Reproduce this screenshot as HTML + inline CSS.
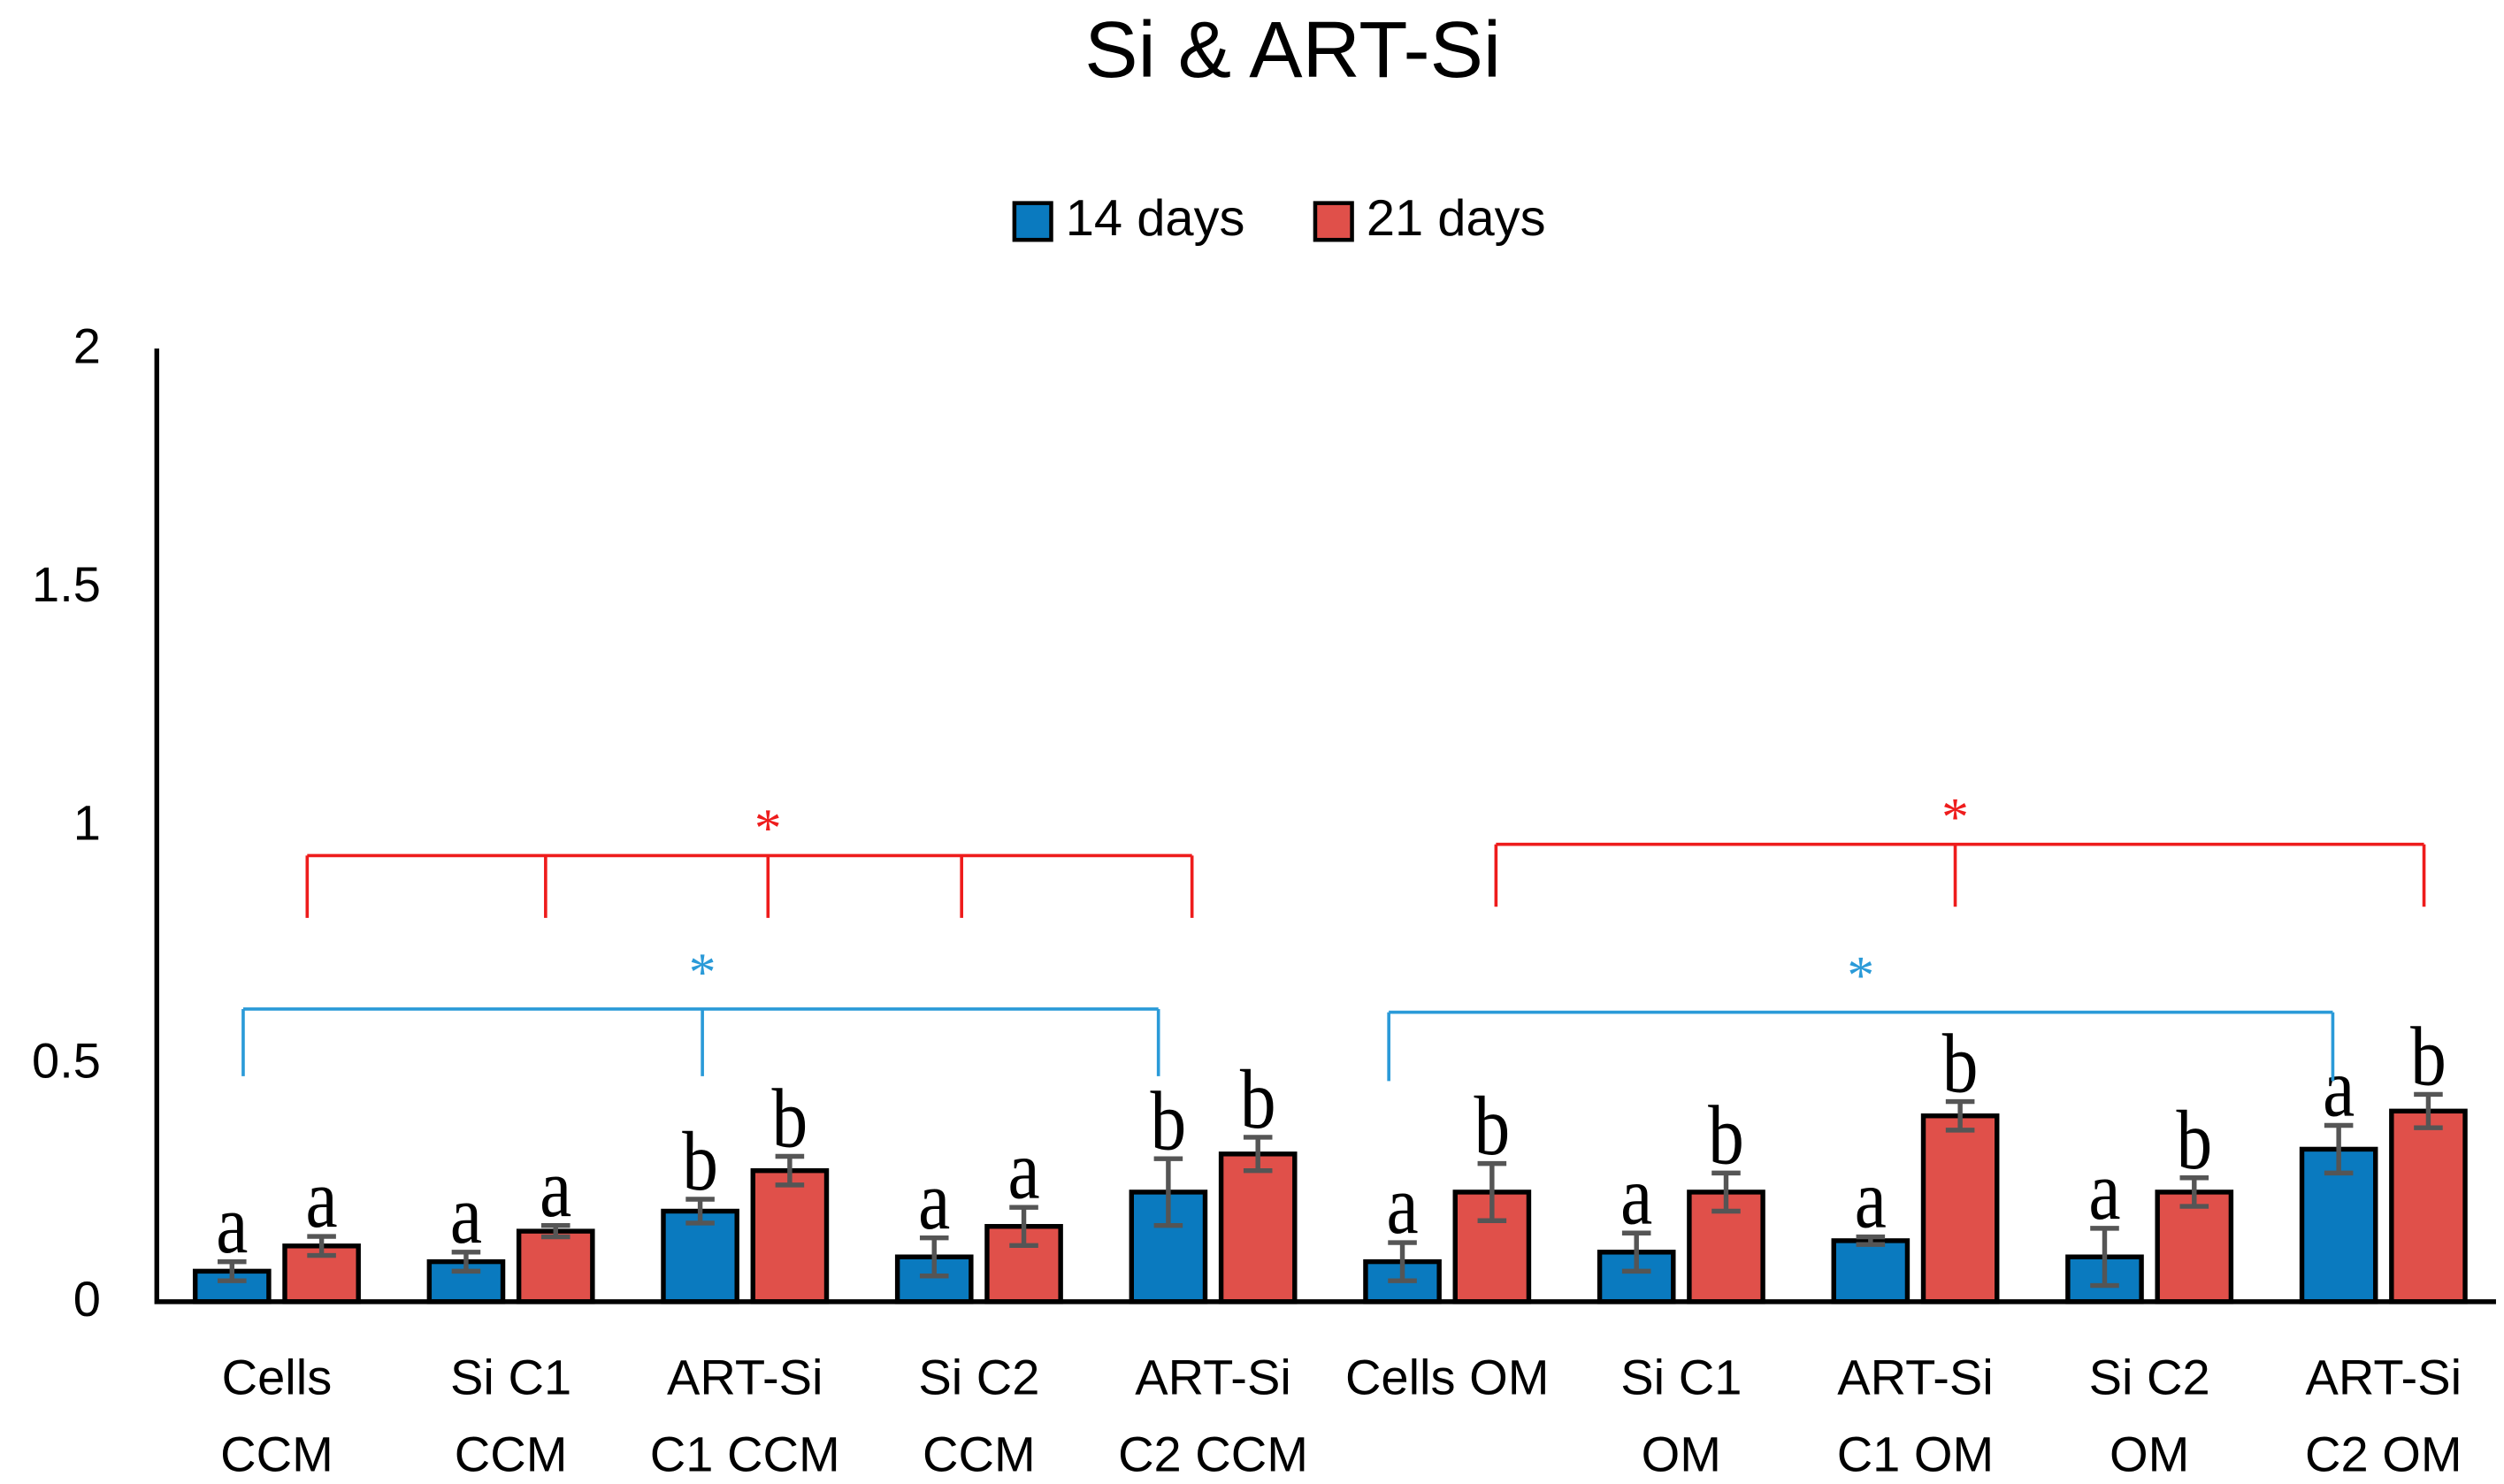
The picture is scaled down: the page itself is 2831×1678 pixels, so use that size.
<!DOCTYPE html>
<html><head><meta charset="utf-8"><style>
html,body{margin:0;padding:0;background:#fff;}
svg{display:block;}
</style></head><body>
<svg id="chart" xmlns="http://www.w3.org/2000/svg" width="2831" height="1678" viewBox="0 0 1565 928" preserveAspectRatio="none">
<text x="808" y="48" text-anchor="middle" font-family="Liberation Sans, sans-serif" font-size="50">Si &amp; ART-Si</text>
<g>
 <rect x="634" y="127" width="23" height="23" fill="#0a7abf" stroke="#000" stroke-width="2.5"/>
 <text x="666" y="147" font-family="Liberation Sans, sans-serif" font-size="32">14 days</text>
 <rect x="822" y="127" width="23" height="23" fill="#e0504a" stroke="#000" stroke-width="2.5"/>
 <text x="854" y="147" font-family="Liberation Sans, sans-serif" font-size="32">21 days</text>
</g>
<g id="plot"></g>
</svg>
<script>
const categories1 = ["Cells","Si C1","ART-Si","Si C2","ART-Si","Cells OM","Si C1","ART-Si","Si C2","ART-Si"];
const categories2 = ["CCM","CCM","C1 CCM","CCM","C2 CCM","","OM","C1 OM","OM","C2 OM"];
const days14 = [0.064,0.084,0.19,0.094,0.23,0.084,0.104,0.128,0.094,0.32];
const days21 = [0.117,0.148,0.275,0.158,0.31,0.23,0.23,0.39,0.23,0.40];
const err14 = [0.02,0.02,0.025,0.04,0.07,0.04,0.04,0.008,0.06,0.05];
const err21 = [0.02,0.012,0.03,0.04,0.035,0.06,0.04,0.03,0.03,0.035];
const letters14 = ["a","a","b","a","b","a","a","a","a","a"];
const letters21 = ["a","a","b","a","b","b","b","b","b","b"];
const yTicks = [0,0.5,1,1.5,2];
const yTickLabels = ["0","0.5","1","1.5","2"];

const NS="http://www.w3.org/2000/svg";
const plot=document.getElementById('plot');
const x0=98, xEnd=1560, yBase=814, yTop=218, yMax=2;
const y=v=>yBase-(v/yMax)*(yBase-yTop);
const step=146.3, firstC=173;
const xc=i=>firstC+i*step;
const bw=46, gap=10;
function mk(tag,attrs){const e=document.createElementNS(NS,tag);for(const k in attrs)e.setAttribute(k,attrs[k]);plot.appendChild(e);return e;}

yTicks.forEach((t,i)=>{
 const e=mk('text',{x:63,y:y(t)+9,'text-anchor':'end','font-family':'Liberation Sans, sans-serif','font-size':'31'});
 e.textContent=yTickLabels[i];
 
 
});

function bar(i,val,err,color,dx,letter,name){
 const bx=xc(i)+dx;
 const r=mk('rect',{x:bx,y:y(val),width:bw,height:yBase-y(val),fill:color,stroke:'#000','stroke-width':3});
 
 
 const cx=bx+bw/2;
 const g=mk('path',{d:`M${cx},${y(val+err)}V${y(val-err)}M${cx-9},${y(val+err)}H${cx+9}M${cx-9},${y(val-err)}H${cx+9}`,stroke:'#555','stroke-width':3,fill:'none'});
 
 
 const ty=y(val+err)-6;
 const t=mk('text',{x:0,y:0,'text-anchor':'middle','font-family':'Liberation Serif, serif','font-size':'50',transform:`translate(${cx},${ty}) scale(0.9,1.05)`});
 t.textContent=letter;
 
 
}
for(let i=0;i<categories1.length;i++){
 bar(i,days14[i],err14[i],'#0a7abf',-bw-gap/2,letters14[i],'bar-14-days');
 bar(i,days21[i],err21[i],'#e0504a',gap/2,letters21[i],'bar-21-days');
 const l1=mk('text',{x:xc(i),y:872,'text-anchor':'middle','font-family':'Liberation Sans, sans-serif','font-size':'31'});
 l1.textContent=categories1[i];
 
 
 const l2=mk('text',{x:xc(i),y:920,'text-anchor':'middle','font-family':'Liberation Sans, sans-serif','font-size':'31'});
 l2.textContent=categories2[i];
 
 
}
const ax=mk('path',{d:`M${x0},${yTop}V${yBase}H${xEnd}`,stroke:'#000','stroke-width':3,fill:'none'});



function bracket(name,color,hy,dropY,xs,starX,starY){
 let d=`M${xs[0]},${hy}H${xs[xs.length-1]}`;
 xs.forEach(x=>{d+=`M${x},${hy}V${dropY}`;});
 const p=mk('path',{d:d,stroke:color,'stroke-width':2,fill:'none'});
 
 
 const s=mk('text',{x:starX,y:starY+14,'text-anchor':'middle','font-family':'Liberation Serif, serif','font-size':'34',fill:color});
 s.textContent='*';
 
 
}
bracket('red-bracket-ccm','#ee1c1c',535,574,[192,341,480,601,745],480,515);
bracket('blue-bracket-ccm','#2a9ad8',631,673,[152,439,724],439,605);
bracket('red-bracket-om','#ee1c1c',528,567,[935,1222,1515],1222,508);
bracket('blue-bracket-om','#2a9ad8',633,676,[868,1458],1163,607);
</script>
</body></html>
